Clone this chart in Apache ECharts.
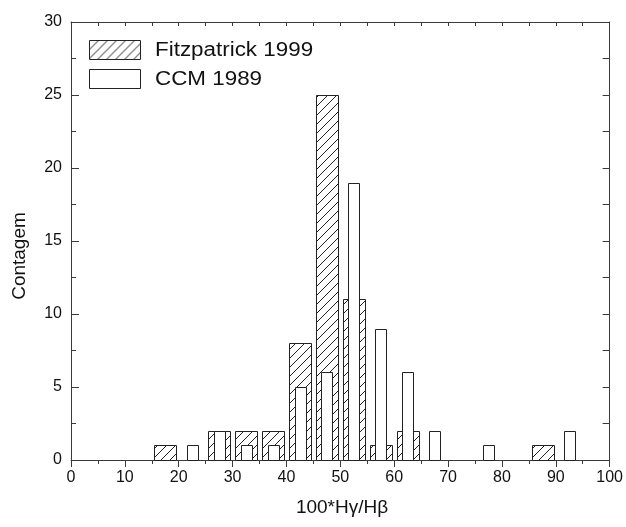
<!DOCTYPE html>
<html><head><meta charset="utf-8">
<script src="https://cdn.jsdelivr.net/npm/echarts@6/dist/echarts.min.js"></script>
<style>html,body{margin:0;padding:0;background:#fff}#c{width:626px;height:527px}</style>
</head><body><div id="c"></div>
<script>
// Data
const fitzCenters = [17.5, 27.5, 32.5, 37.5, 42.5, 47.5, 52.5, 57.5, 62.5, 87.5];
const fitzCounts  = [1, 2, 2, 2, 8, 25, 11, 1, 2, 1];
const ccmCenters  = [22.5, 27.5, 32.5, 37.5, 42.5, 47.5, 52.5, 57.5, 62.5, 67.5, 77.5, 92.5];
const ccmCounts   = [1, 2, 1, 1, 5, 6, 19, 9, 6, 2, 1, 2];
const xTicks = [0, 10, 20, 30, 40, 50, 60, 70, 80, 90, 100];
const yTicks = [0, 5, 10, 15, 20, 25, 30];
const seriesNames = ['Fitzpatrick 1999', 'CCM 1989'];
const xTitle = '100*H\u03b3/H\u03b2';
const yTitle = 'Contagem';

const FITZ_W = 4, CCM_W = 2;
const font = 'Arial, "Liberation Sans", Helvetica, sans-serif';
const stroke = '#222';
const axisColor = '#3a3a3a';

function makeHatch() {
  const s = 9;
  const cv = document.createElement('canvas');
  cv.width = s; cv.height = s;
  const ctx = cv.getContext('2d');
  ctx.fillStyle = '#fff'; ctx.fillRect(0, 0, s, s);
  ctx.strokeStyle = '#222'; ctx.lineWidth = 1;
  ctx.beginPath();
  ctx.moveTo(-1, s + 1); ctx.lineTo(s + 1, -1);
  ctx.moveTo(-1, 1); ctx.lineTo(1, -1);
  ctx.moveTo(s - 1, s + 1); ctx.lineTo(s + 1, s - 1);
  ctx.stroke();
  return cv;
}
const hatch = { image: makeHatch(), repeat: 'repeat' };

function barRender(width, fill) {
  return function (params, api) {
    const x = api.value(0), y = api.value(1);
    const p1 = api.coord([x - width / 2, y]);
    const p2 = api.coord([x + width / 2, 0]);
    return {
      type: 'rect',
      shape: { x: Math.round(p1[0]) + 0.5, y: Math.round(p1[1]) + 0.5,
               width: Math.round(p2[0] - p1[0]), height: Math.round(p2[1] - p1[1]) },
      style: { fill: fill, stroke: stroke, lineWidth: 1 }
    };
  };
}

const chart = echarts.init(document.getElementById('c'), null, { renderer: 'canvas' });
const line = { show: true, onZero: false, lineStyle: { color: axisColor, width: 1 } };
chart.setOption({
  animation: false,
  backgroundColor: '#fff',
  grid: { left: 71, right: 16, top: 22, bottom: 67 },
  xAxis: [{
    type: 'value', min: 0, max: 100, interval: 10,
    axisLine: line,
    axisTick: { show: true, inside: false, length: 7, lineStyle: { color: axisColor } },
    minorTick: { show: true, splitNumber: 2, length: 4, lineStyle: { color: axisColor } },
    axisLabel: { fontFamily: font, fontSize: 16, color: '#111', margin: 10,
      formatter: v => xTicks.indexOf(v) >= 0 ? String(v) : '' },
    splitLine: { show: false }
  }, {
    type: 'value', position: 'top', min: 0, max: 100, interval: 5,
    axisLine: line,
    axisTick: { show: true, inside: true, length: 4, lineStyle: { color: axisColor } },
    axisLabel: { show: false }, splitLine: { show: false }
  }],
  yAxis: [{
    type: 'value', min: 0, max: 30, interval: 5,
    axisLine: line,
    axisTick: { show: true, inside: true, length: 8, lineStyle: { color: axisColor } },
    minorTick: { show: true, splitNumber: 2, length: 5, lineStyle: { color: axisColor } },
    axisLabel: { fontFamily: font, fontSize: 16, color: '#111', margin: 9,
      formatter: v => yTicks.indexOf(v) >= 0 ? String(v) : '' },
    splitLine: { show: false }
  }, {
    type: 'value', position: 'right', min: 0, max: 30, interval: 2.5,
    axisLine: line,
    axisTick: { show: true, inside: true, length: 7, lineStyle: { color: axisColor } },
    axisLabel: { show: false }, splitLine: { show: false }
  }],
  series: [{
    name: seriesNames[0], type: 'custom', xAxisIndex: 0, yAxisIndex: 0,
    renderItem: barRender(FITZ_W, hatch),
    data: fitzCenters.map((c, i) => [c, fitzCounts[i]]), z: 2
  }, {
    name: seriesNames[1], type: 'custom', xAxisIndex: 0, yAxisIndex: 0,
    renderItem: barRender(CCM_W, '#fff'),
    data: ccmCenters.map((c, i) => [c, ccmCounts[i]]), z: 3
  }],
  graphic: [
    { type: 'rect', left: 89, top: 40, shape: { width: 51, height: 19 },
      style: { fill: hatch, stroke: stroke, lineWidth: 1 }, z: 10 },
    { type: 'text', x: 155, y: 50, scaleX: 1.12,
      style: { text: seriesNames[0], font: '20px ' + font, fill: '#111', verticalAlign: 'middle' }, z: 10 },
    { type: 'rect', left: 89, top: 69, shape: { width: 51, height: 19 },
      style: { fill: '#fff', stroke: stroke, lineWidth: 1 }, z: 10 },
    { type: 'text', x: 155, y: 79, scaleX: 1.12,
      style: { text: seriesNames[1], font: '20px ' + font, fill: '#111', verticalAlign: 'middle' }, z: 10 },
    { type: 'text', x: 342, y: 508,
      style: { text: xTitle, font: '19px ' + font, fill: '#111', align: 'center', verticalAlign: 'middle' } },
    { type: 'text', x: 20, y: 256, rotation: Math.PI / 2,
      style: { text: yTitle, font: '19px ' + font, fill: '#111', align: 'center', verticalAlign: 'middle' } }
  ]
});
</script></body></html>
